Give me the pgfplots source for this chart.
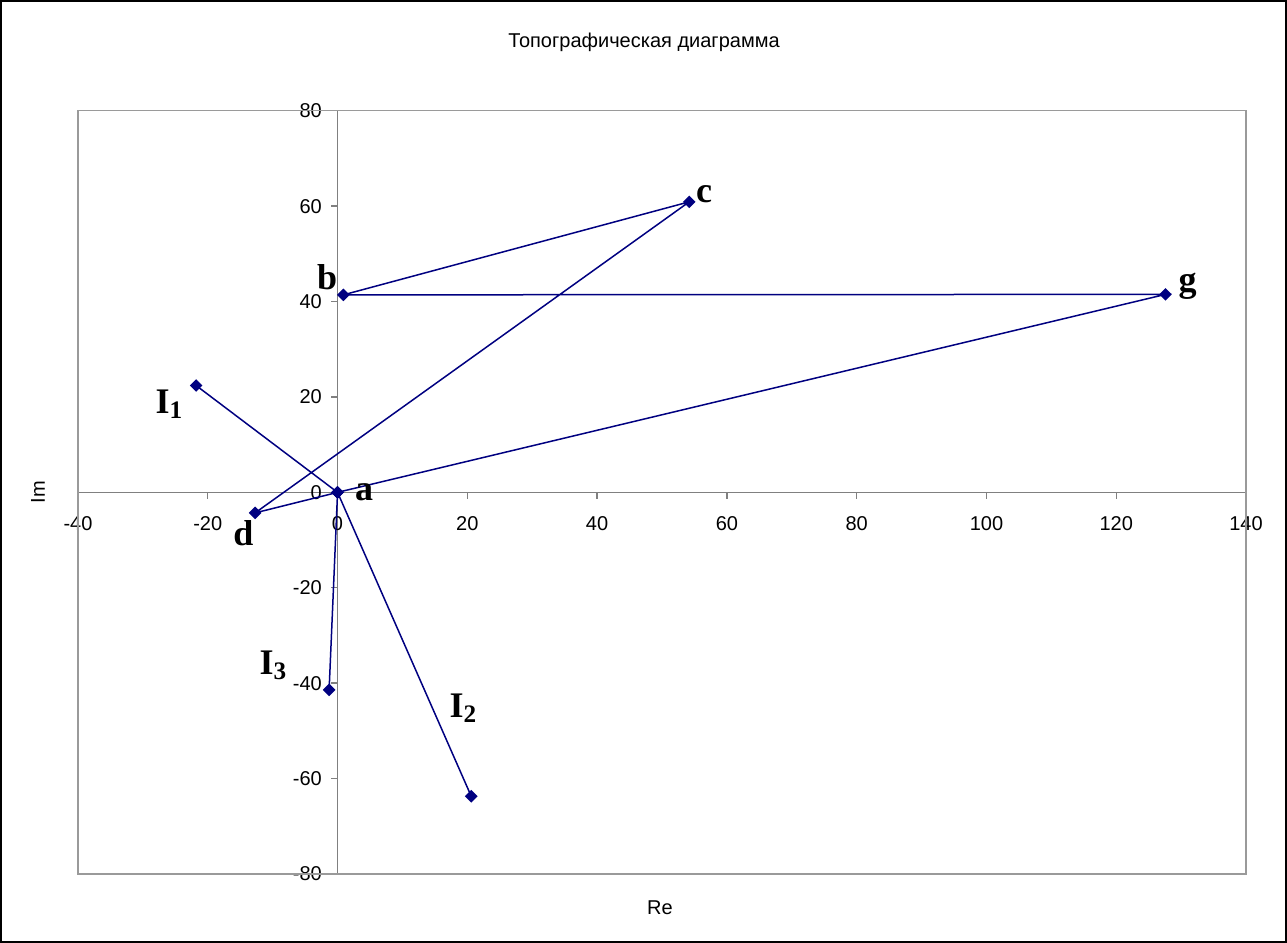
\documentclass[border=0pt]{standalone}
\usepackage{fontspec}
\setmainfont{Liberation Sans}
\newfontfamily\serifb{Liberation Serif}
\usepackage{pgfplots}
\pgfplotsset{compat=1.18}
\definecolor{navyline}{HTML}{000080}
\definecolor{exgray}{HTML}{808080}
\begin{document}
\begin{tikzpicture}[x=1pt,y=1pt]
\draw[line width=1.2pt] (0.6,0.6) rectangle (642.9,470.9);
\node[font=\fontsize{10}{12}\selectfont] at (322,450.5) {Топографическая диаграмма};
\node[font=\fontsize{10}{12}\selectfont, rotate=90] at (19,225.5) {Im};
\node[font=\fontsize{10}{12}\selectfont] at (330,17.5) {Re};
\begin{axis}[
  at={(39pt,34.5pt)}, anchor=south west,
  scale only axis, width=584pt, height=381.65pt,
  xmin=-40, xmax=140, ymin=-80, ymax=80,
  axis lines=middle,
  axis line style={-, draw=exgray, line width=0.7pt},
  xtick={-40,-20,0,20,40,60,80,100,120,140},
  ytick={-80,-60,-40,-20,0,20,40,60,80},
  hide obscured x ticks=false, hide obscured y ticks=false,
  tick align=outside, major tick length=3.2pt,
  every tick/.style={draw=exgray, line width=0.7pt},
  /pgf/number format/assume math mode=true,
  ticklabel style={font=\fontsize{10}{12}\selectfont},
  xticklabel style={anchor=center, yshift=-12.2pt},
  yticklabel style={anchor=east, inner sep=0pt, xshift=-4.5pt},
  clip=false,
]
\draw[exgray!80, line width=0.7pt] (rel axis cs:0,0) rectangle (rel axis cs:1,1);
\addplot[navyline, line width=0.75pt, mark=square*, mark size=1.85pt,
  mark options={rotate=45, fill=navyline, draw=navyline}]
  coordinates {(-21.8,22.4) (0,0) (20.6,-63.7) (0,0) (-1.3,-41.4) (0,0)
   (-12.7,-4.3) (54.2,60.9) (0.9,41.4) (127.6,41.5) (0,0)};
\tikzset{lbl/.style={font=\serifb\bfseries\fontsize{18}{18}\selectfont, inner sep=0pt}}
\node[lbl] at (axis cs:4.1,0.1) {a};
\node[lbl] at (axis cs:-1.6,45.2) {b};
\node[lbl] at (axis cs:56.5,62.4) {c};
\node[lbl] at (axis cs:-14.5,-8.5) {d};
\node[lbl] at (axis cs:131,43.2) {g};
\node[lbl] at (axis cs:-25.9,18.4) {I\textsubscript{1}};
\node[lbl] at (axis cs:-9.9,-36.2) {I\textsubscript{3}};
\node[lbl] at (axis cs:19.4,-45.2) {I\textsubscript{2}};
\end{axis}
\end{tikzpicture}
\end{document}
